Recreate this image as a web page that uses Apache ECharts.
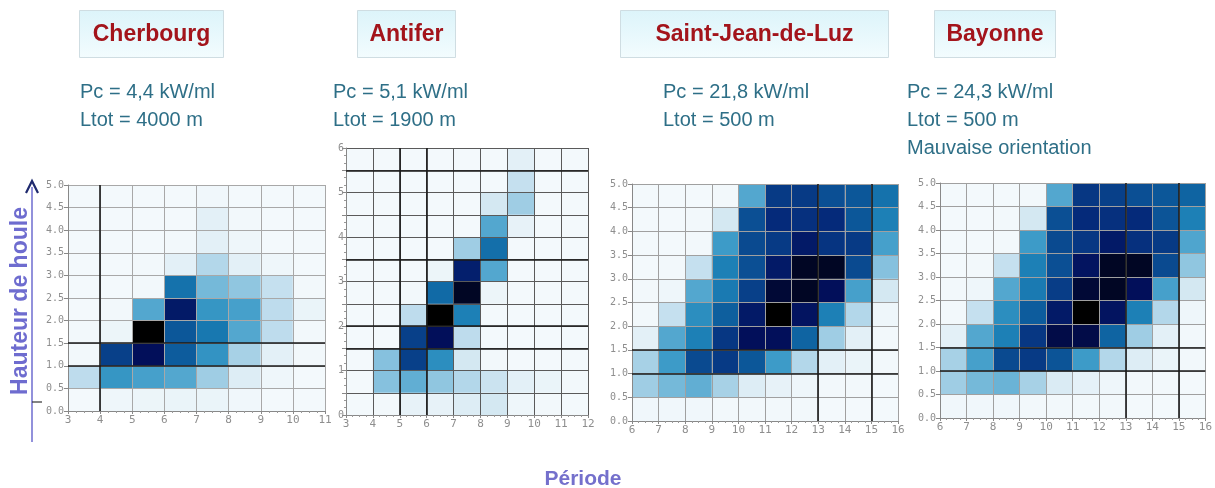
<!DOCTYPE html>
<html>
<head>
<meta charset="utf-8">
<style>
  html, body { margin: 0; padding: 0; background: #fff; }
  #chart { width: 1215px; height: 488px; }
</style>
<script src="https://cdn.jsdelivr.net/npm/echarts@6/dist/echarts.min.js"></script>
</head>
<body>
<div id="chart"></div>
<script>
// energy density per (period, wave height) cell, 0 = none, 10 = max
const heights5 = [0, 0.5, 1, 1.5, 2, 2.5, 3, 3.5, 4, 4.5]
const heights6 = [0, 0.5, 1, 1.5, 2, 2.5, 3, 3.5, 4, 4.5, 5, 5.5]

const cherbourgPeriods = [3, 4, 5, 6, 7, 8, 9, 10]
const cherbourgValues = [
  [0.2, 0.5, 0.6, 0.7, 0.7, 0.4, 0.2, 0.2],
  [2.2, 5.2, 4.8, 4.5, 3.0, 1.2, 0.5, 0.2],
  [0.3, 8.3, 9.5, 7.3, 5.3, 2.8, 1.0, 0.3],
  [0.3, 0.6, 10, 7.5, 6.3, 4.5, 2.2, 0.3],
  [0.2, 0.3, 4.5, 9.3, 5.2, 4.8, 2.2, 0.7],
  [0.2, 0.2, 0.3, 6.5, 3.8, 3.3, 2.0, 0.3],
  [0.2, 0.2, 0.3, 1.0, 2.5, 1.0, 0.5, 0.2],
  [0.2, 0.2, 0.2, 0.3, 1.0, 0.5, 0.2, 0.2],
  [0.2, 0.2, 0.2, 0.2, 1.0, 0.3, 0.2, 0.2],
  [0.2, 0.2, 0.2, 0.2, 0.4, 0.2, 0.2, 0.2]
]

const antiferPeriods = [3, 4, 5, 6, 7, 8, 9, 10, 11]
const antiferValues = [
  [0.2, 0.3, 0.8, 0.8, 1.2, 1.5, 0.5, 0.3, 0.2],
  [0.2, 3.5, 4.2, 3.3, 2.5, 1.8, 1.0, 0.7, 0.3],
  [0.2, 3.5, 8.3, 5.5, 1.5, 0.3, 0.2, 0.2, 0.2],
  [0.2, 0.2, 8.3, 9.5, 2.2, 0.2, 0.2, 0.2, 0.2],
  [0.2, 0.2, 2.2, 10, 6.0, 0.2, 0.2, 0.2, 0.2],
  [0.2, 0.2, 0.3, 6.8, 9.8, 0.6, 0.2, 0.2, 0.2],
  [0.2, 0.2, 0.2, 0.6, 9.2, 4.5, 0.2, 0.2, 0.2],
  [0.2, 0.2, 0.2, 0.2, 3.0, 6.6, 0.2, 0.2, 0.2],
  [0.2, 0.2, 0.2, 0.2, 0.2, 4.5, 0.8, 0.2, 0.2],
  [0.2, 0.2, 0.2, 0.2, 0.2, 1.5, 3.0, 0.2, 0.2],
  [0.2, 0.2, 0.2, 0.2, 0.2, 0.2, 2.0, 0.2, 0.2],
  [0.2, 0.2, 0.2, 0.2, 0.2, 0.2, 1.0, 0.2, 0.2]
]

const luzPeriods = [6, 7, 8, 9, 10, 11, 12, 13, 14, 15]
const luzValues = [
  [0.4, 0.4, 0.4, 0.3, 0.3, 0.3, 0.3, 0.2, 0.2, 0.2],
  [3.0, 3.8, 4.2, 2.8, 1.2, 0.8, 0.5, 0.3, 0.3, 0.2],
  [2.8, 5.0, 8.0, 8.5, 7.5, 5.0, 2.5, 1.0, 0.7, 0.3],
  [1.0, 4.5, 6.0, 8.6, 9.5, 9.5, 7.0, 3.0, 1.0, 0.3],
  [0.3, 2.0, 5.5, 7.2, 9.3, 10, 9.4, 6.0, 2.5, 0.5],
  [0.3, 0.5, 4.5, 6.2, 8.3, 9.7, 9.8, 9.5, 4.8, 1.5],
  [0.2, 0.3, 2.0, 6.0, 7.8, 9.3, 9.8, 9.8, 8.0, 3.5],
  [0.2, 0.2, 0.3, 5.0, 8.0, 8.5, 9.3, 8.7, 8.5, 4.8],
  [0.2, 0.2, 0.3, 1.5, 7.8, 9.0, 8.8, 9.0, 7.5, 6.0],
  [0.2, 0.2, 0.2, 0.3, 4.5, 8.5, 8.5, 7.8, 7.5, 6.5]
]

const bayonnePeriods = [6, 7, 8, 9, 10, 11, 12, 13, 14, 15]
const bayonneValues = [
  [0.4, 0.4, 0.4, 0.3, 0.3, 0.3, 0.3, 0.2, 0.2, 0.2],
  [3.0, 3.8, 4.0, 2.8, 1.3, 0.9, 0.5, 0.3, 0.3, 0.2],
  [2.8, 4.8, 8.0, 8.5, 7.6, 5.0, 2.5, 1.2, 0.7, 0.3],
  [1.0, 4.5, 6.0, 8.6, 9.6, 9.6, 7.0, 3.0, 1.0, 0.3],
  [0.3, 2.0, 5.5, 7.3, 9.3, 10, 9.4, 6.0, 2.5, 0.5],
  [0.3, 0.5, 4.5, 6.2, 8.4, 9.7, 9.8, 9.5, 4.8, 1.5],
  [0.2, 0.3, 2.0, 6.0, 7.8, 9.4, 9.8, 9.8, 8.0, 3.3],
  [0.2, 0.2, 0.3, 5.0, 8.0, 8.6, 9.3, 8.8, 8.5, 4.6],
  [0.2, 0.2, 0.3, 1.5, 7.8, 9.0, 8.8, 9.0, 7.6, 6.0],
  [0.2, 0.2, 0.2, 0.3, 4.5, 8.6, 8.3, 7.8, 7.5, 7.0]
]

const sites = ['Cherbourg', 'Antifer', 'Saint-Jean-de-Luz', 'Bayonne']
const siteNotes = [
  'Pc = 4,4 kW/ml\nLtot = 4000 m',
  'Pc = 5,1 kW/ml\nLtot = 1900 m',
  'Pc = 21,8 kW/ml\nLtot = 500 m',
  'Pc = 24,3 kW/ml\nLtot = 500 m\nMauvaise orientation'
]

const toCells = (periods, heights, values) => {
  const out = []
  values.forEach((row, r) => {
    row.forEach((v, c) => {
      out.push([periods[c], heights[r], v])
    })
  })
  return out
}

const chartData = [
  toCells(cherbourgPeriods, heights5, cherbourgValues),
  toCells(antiferPeriods, heights6, antiferValues),
  toCells(luzPeriods, heights5, luzValues),
  toCells(bayonnePeriods, heights5, bayonneValues)
]

const grids = [
  { left: 68, top: 185, width: 257, height: 226 },
  { left: 346, top: 148, width: 242, height: 267 },
  { left: 632, top: 184, width: 266, height: 237 },
  { left: 940, top: 183, width: 266, height: 235 }
]
const xRanges = [[3, 11], [3, 12], [6, 16], [6, 16]]
const yRanges = [[0, 5], [0, 6], [0, 5], [0, 5]]
const gridColors = ['#a8a8a8', '#5a5a5a', '#a0a0a0', '#a0a0a0']
const strongX = [[4], [5, 6], [13, 15], [13, 15]]
const strongY = [[1, 1.5], [1.5, 2, 3.5, 5.5], [1, 1.5], [1, 1.5]]

// one colour every 0.5 step, 0 -> 10
const blues = [
  '#f7fbfd', '#eef6fa', '#e3f0f7', '#d4e8f2', '#c5e0ef', '#b3d7ea', '#9fcde4',
  '#86c1de', '#6ab3d6', '#53a7cf', '#3d9bc8', '#2c8ebf', '#1d80b6', '#1572ac',
  '#0f64a2', '#0c5799', '#0a4a90', '#073a85', '#052a7a', '#020f5a', '#000000'
]

const labelFont = {
  color: '#8e8e8e',
  fontFamily: 'DejaVu Sans Mono',
  fontSize: 10
}

const renderCell = (params, api) => {
  const x = api.value(0)
  const y = api.value(1)
  const p0 = api.coord([x, y + 0.5])
  const p1 = api.coord([x + 1, y])
  return {
    type: 'rect',
    shape: { x: p0[0], y: p0[1], width: p1[0] - p0[0], height: p1[1] - p0[1] },
    style: { fill: api.visual('color') }
  }
}

const myChart = echarts.init(document.getElementById('chart'))

const option = {
  backgroundColor: '#ffffff',
  animation: false,
  grid: grids.map((g) => ({ ...g, containLabel: false })),
  xAxis: grids.map((g, i) => ({
    type: 'value',
    gridIndex: i,
    min: xRanges[i][0],
    max: xRanges[i][1],
    interval: 1,
    z: 5,
    axisLine: { show: true, lineStyle: { color: '#888' } },
    axisTick: { show: true, length: 3, lineStyle: { color: '#888' } },
    minorTick: { show: true, splitNumber: 4, length: 2, lineStyle: { color: '#999' } },
    axisLabel: { ...labelFont, fontSize: 11, margin: 4 },
    splitLine: { show: true, lineStyle: { color: gridColors[i], width: 1 } }
  })),
  yAxis: grids.map((g, i) => ({
    type: 'value',
    gridIndex: i,
    min: yRanges[i][0],
    max: yRanges[i][1],
    interval: 0.5,
    z: 5,
    axisLine: { show: true, lineStyle: { color: '#888' } },
    axisTick: { show: true, length: 4, lineStyle: { color: '#888' } },
    minorTick: { show: i === 1, splitNumber: 3, length: 2, lineStyle: { color: '#999' } },
    axisLabel: {
      ...labelFont,
      margin: i === 1 ? 2 : 4,
      formatter: (v) => {
        if (i === 1) return Number.isInteger(v) ? String(v) : ''
        return v.toFixed(1)
      }
    },
    splitLine: { show: true, lineStyle: { color: gridColors[i], width: 1 } }
  })),
  visualMap: {
    show: false,
    seriesIndex: [0, 1, 2, 3],
    dimension: 2,
    min: 0,
    max: 10,
    inRange: { color: blues }
  },
  series: chartData.map((d, i) => ({
    type: 'custom',
    xAxisIndex: i,
    yAxisIndex: i,
    renderItem: renderCell,
    encode: { x: 0, y: 1 },
    data: d,
    z: 2,
    markLine: {
      silent: true,
      symbol: 'none',
      z: 6,
      label: { show: false },
      lineStyle: { color: '#1a1a1a', width: 1.6, type: 'solid' },
      data: [
        ...strongX[i].map((v) => ({ xAxis: v })),
        ...strongY[i].map((v) => ({ yAxis: v }))
      ]
    }
  })),
  graphic: [
    // site name boxes
    ...[
      { x: 79, w: 144 },
      { x: 357, w: 98 },
      { x: 620, w: 268 },
      { x: 934, w: 121 }
    ].map((b, i) => ({
      type: 'group',
      left: b.x,
      top: 10,
      children: [
        {
          type: 'rect',
          shape: { x: 0, y: 0, width: b.w, height: 47 },
          style: {
            fill: {
              type: 'linear', x: 0, y: 0, x2: 0, y2: 1,
              colorStops: [
                { offset: 0, color: '#dcf4fa' },
                { offset: 1, color: '#f3fcfe' }
              ]
            },
            stroke: '#cfdde2',
            lineWidth: 1
          }
        },
        {
          type: 'text',
          x: b.w / 2,
          y: 24,
          style: {
            text: sites[i],
            fill: '#a3141b',
            font: 'bold 23px "Liberation Sans", Arial, sans-serif',
            align: 'center',
            verticalAlign: 'middle'
          }
        }
      ]
    })),
    // Pc / Ltot notes
    ...[80, 333, 663, 907].map((x, i) => ({
      type: 'text',
      left: x,
      top: 78,
      style: {
        text: siteNotes[i],
        fill: '#2e6f87',
        font: '20px "Liberation Sans", Arial, sans-serif',
        lineHeight: 28
      }
    })),
    // y axis title with arrow
    {
      type: 'text',
      x: 21,
      y: 301,
      rotation: Math.PI / 2,
      style: {
        text: 'Hauteur de houle',
        fill: '#6e6ccf',
        font: 'bold 23px "Liberation Sans", Arial, sans-serif',
        align: 'center',
        verticalAlign: 'middle'
      }
    },
    {
      type: 'line',
      shape: { x1: 32, y1: 187, x2: 32, y2: 442 },
      style: { stroke: '#6e6ccf', lineWidth: 1.5 }
    },
    {
      type: 'line',
      shape: { x1: 32, y1: 402, x2: 42, y2: 402 },
      style: { stroke: '#333', lineWidth: 1.2 }
    },
    {
      type: 'polyline',
      shape: { points: [[26, 193], [32, 181], [38, 193]] },
      style: { stroke: '#1f2a6e', lineWidth: 2.2, fill: null }
    },
    // x axis title
    {
      type: 'text',
      x: 583,
      y: 479,
      style: {
        text: 'Période',
        fill: '#7470cc',
        font: 'bold 21px "Liberation Sans", Arial, sans-serif',
        align: 'center',
        verticalAlign: 'middle'
      }
    }
  ]
}

myChart.setOption(option)
</script>
</body>
</html>
